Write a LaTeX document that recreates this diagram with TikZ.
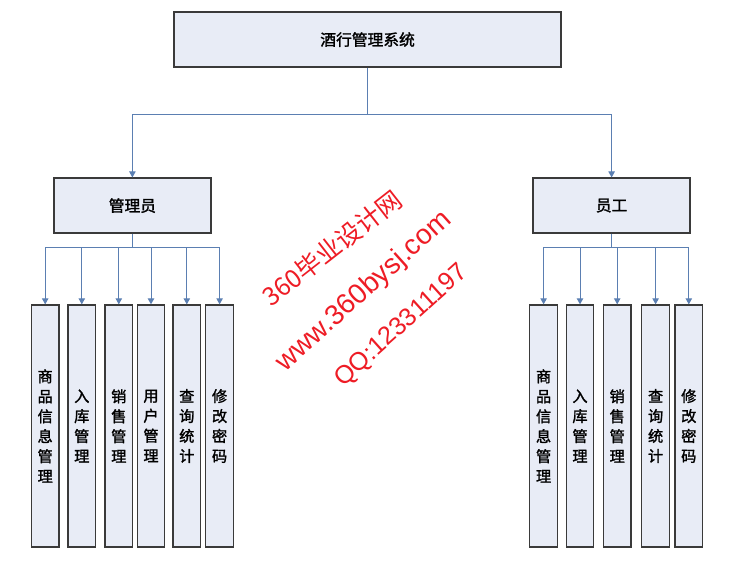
\documentclass[tikz,border=0pt]{standalone}
\usepackage{fontspec}
\newfontfamily\cjk[FakeBold=1.6]{Noto Sans CJK SC}
\newfontfamily\cjkstamp{Noto Sans CJK SC}
\newfontfamily\wmfont{Liberation Sans}
\usetikzlibrary{arrows.meta,positioning}
\definecolor{boxfill}{HTML}{E8ECF6}
\definecolor{boxline}{HTML}{3A3A3A}
\definecolor{wire}{HTML}{5B7FB2}
\definecolor{stamp}{HTML}{EE1C25}
\tikzset{mod/.style={draw=boxline,fill=boxfill,line width=.9pt,align=center,font=\cjk\fontsize{11.2}{13}\selectfont,minimum width=3.925cm,minimum height=1.375cm,inner sep=0pt},leaf/.style={draw=boxline,fill=boxfill,line width=.9pt,align=center,font=\cjk\fontsize{10.8}{14.2}\selectfont,minimum width=.69cm,minimum height=6.05cm,inner sep=0pt},tr/.style={-{Triangle[length=1.5mm,width=1.6mm]},draw=wire,line width=.7pt},wm/.style={text=stamp,rotate=40,inner sep=0pt}}

\begin{document}
\begin{tikzpicture}
\useasboundingbox (0,0) rectangle (18.225,-14.35);
\node[mod,minimum width=9.675cm] (sys) at (9.19,-.99) {酒行管理系统};
\node[mod] (adm) at (3.31,-5.14) {管理员};
\node[mod] (emp) at (15.29,-5.14) {员工};
\coordinate (sysbus) at (9.19,-2.85);
\draw[tr] (sys.south)--(sysbus)-|(adm.north);
\draw[tr] (sysbus)-|(emp.north);
% admin leaves
\node[leaf] (a1) at (1.13,-10.65) {商\\品\\信\\息\\管\\理};
\node[leaf] (a2) at (2.045,-10.65) {入\\库\\管\\理};
\node[leaf] (a3) at (2.97,-10.65) {销\\售\\管\\理};
\node[leaf] (a4) at (3.775,-10.65) {用\\户\\管\\理};
\node[leaf] (a5) at (4.67,-10.65) {查\\询\\统\\计};
\node[leaf] (a6) at (5.49,-10.65) {修\\改\\密\\码};
\coordinate (admbus) at (3.31,-6.175);
\draw[draw=wire,line width=.7pt] (adm.south)--(admbus);
\draw[tr] (admbus)-|(a1.north);
\draw[tr] (admbus)-|(a2.north);
\draw[tr] (admbus)-|(a3.north);
\draw[tr] (admbus)-|(a4.north);
\draw[tr] (admbus)-|(a5.north);
\draw[tr] (admbus)-|(a6.north);
% employee leaves
\node[leaf] (e1) at (13.59,-10.65) {商\\品\\信\\息\\管\\理};
\node[leaf] (e2) at (14.5,-10.65) {入\\库\\管\\理};
\node[leaf] (e3) at (15.43,-10.65) {销\\售\\管\\理};
\node[leaf] (e4) at (16.39,-10.65) {查\\询\\统\\计};
\node[leaf] (e5) at (17.22,-10.65) {修\\改\\密\\码};
\coordinate (empbus) at (15.29,-6.175);
\draw[draw=wire,line width=.7pt] (emp.south)--(empbus);
\draw[tr] (empbus)-|(e1.north);
\draw[tr] (empbus)-|(e2.north);
\draw[tr] (empbus)-|(e3.north);
\draw[tr] (empbus)-|(e4.north);
\draw[tr] (empbus)-|(e5.north);
% watermark
\node[wm,rotate=-2,font=\cjkstamp\fontsize{18}{18}\selectfont] (wm1) at (8.3,-6.2) {360毕业设计网};
\node[wm,rotate=2,font=\wmfont\fontsize{20}{20}\selectfont] (wm2) at (9.1,-7.29) {www.360bysj.com};
\node[wm,rotate=2,font=\wmfont\fontsize{18}{18}\selectfont] (wm3) at (10.04,-8.15) {QQ:123311197};
\end{tikzpicture}
\end{document}
